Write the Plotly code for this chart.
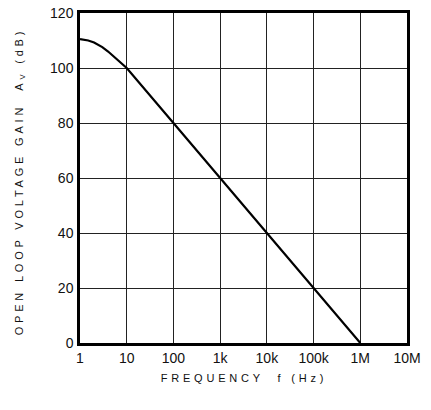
import plotly.graph_objects as go

# Data
freq_hz = [1, 1.5, 2, 3, 4, 5, 6, 7, 8, 10, 100, 1000, 10000, 100000, 1000000]
gain_db = [110.5, 110.0, 109.3, 107.6, 106.0, 104.6, 103.4, 102.4, 101.5, 100,
           80, 60, 40, 20, 0]

x_tickvals = [1, 10, 100, 1000, 10000, 100000, 1000000, 10000000]
x_ticktext = ["1", "10", "100", "1k", "10k", "100k", "1M", "10M"]
y_tickvals = [0, 20, 40, 60, 80, 100, 120]

fig = go.Figure()
fig.add_trace(go.Scatter(
    x=freq_hz, y=gain_db, mode="lines",
    line=dict(color="black", width=2.2),
    hoverinfo="skip", showlegend=False,
))

tickfont = dict(family="Liberation Sans, Arial, sans-serif", size=14, color="#111")
fig.update_xaxes(
    type="log", range=[0, 7], tickvals=x_tickvals, ticktext=x_ticktext,
    showgrid=True, gridcolor="#222", gridwidth=1,
    showline=True, linecolor="black", linewidth=2.5, mirror=True,
    ticks="", tickfont=tickfont, ticklabelstandoff=0, zeroline=False,
    automargin=False,
)
fig.update_yaxes(
    range=[0, 120], tickvals=y_tickvals,
    showgrid=True, gridcolor="#222", gridwidth=1,
    showline=True, linecolor="black", linewidth=2.5, mirror=True,
    ticks="", tickfont=tickfont, ticklabelstandoff=1, zeroline=False,
    automargin=False,
)

titlefont = dict(family="Liberation Sans, Arial, sans-serif", size=11, color="#111")
fig.add_annotation(
    text="FREQUENCY  f (Hz)", xref="paper", yref="paper", x=0.50, y=-0.106,
    showarrow=False, font=titlefont, xanchor="center", yanchor="middle",
)
fig.add_annotation(
    text="OPEN LOOP VOLTAGE GAIN  A<sub>V</sub> (dB)", xref="paper", yref="paper",
    x=-0.183, y=0.49, textangle=-90,
    showarrow=False, font=titlefont, xanchor="center", yanchor="middle",
)

fig.update_layout(
    width=431, height=410,
    margin=dict(l=80, r=24, t=13, b=67),
    paper_bgcolor="white", plot_bgcolor="white",
)

post = """
document.body.style.margin = '0';
document.querySelectorAll('.annotation-text').forEach(function(t){
  t.style.letterSpacing = '3.8px';
});
"""
fig.write_html("out.html", post_script=post, config={"displayModeBar": False})
